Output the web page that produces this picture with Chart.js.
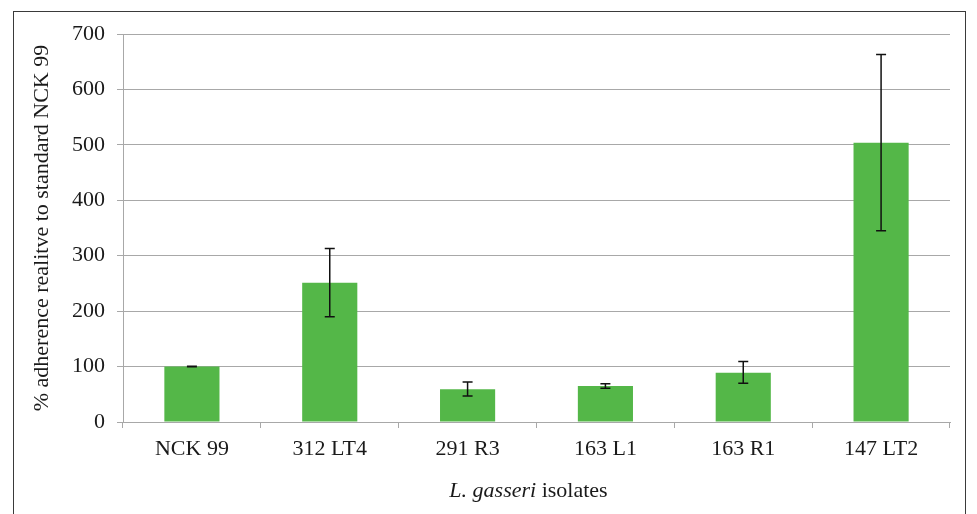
<!DOCTYPE html>
<html>
<head>
<meta charset="utf-8">
<script src="https://cdn.jsdelivr.net/npm/chart.js@4"></script>
<style>
  html, body { margin: 0; padding: 0; background: #ffffff; }
  #wrap { position: relative; width: 977px; height: 514px; overflow: hidden; }
  #frame { position: absolute; left: 13px; top: 11px; width: 953px; height: 530px; border: 1px solid #3a3a3a; box-sizing: border-box; pointer-events: none; }
  canvas { position: absolute; left: 0; top: 0; }
</style>
</head>
<body>
<div id="wrap">
  <canvas id="chart" width="977" height="514"></canvas>
  <div id="frame"></div>
</div>
<script>
// Isolates and their adherence relative to NCK 99 (%)
const isolates = ['NCK 99', '312 LT4', '291 R3', '163 L1', '163 R1', '147 LT2'];
const adherence = [100, 251, 59, 65, 89, 504];
const errLow = [99.5, 190, 47, 61, 70, 345];
const errHigh = [100.5, 313, 72, 69, 109, 663];
const yTicks = [0, 100, 200, 300, 400, 500, 600, 700];

const serif = '"Liberation Serif", "Times New Roman", serif';
const gridGray = '#a8a8a8';

// Error bars drawn through the y scale
const errorBars = {
  id: 'errorBars',
  afterDatasetsDraw(chart) {
    const ctx = chart.ctx;
    const y = chart.scales.y;
    const meta = chart.getDatasetMeta(0);
    ctx.save();
    ctx.strokeStyle = '#111111';
    ctx.lineWidth = 1.5;
    meta.data.forEach((bar, i) => {
      const x = bar.x;
      const yt = y.getPixelForValue(errHigh[i]);
      const yb = y.getPixelForValue(errLow[i]);
      const cap = 5;
      ctx.beginPath();
      ctx.moveTo(x, yt); ctx.lineTo(x, yb);
      ctx.moveTo(x - cap, yt); ctx.lineTo(x + cap, yt);
      ctx.moveTo(x - cap, yb); ctx.lineTo(x + cap, yb);
      ctx.stroke();
    });
    ctx.restore();
  }
};

// X axis title with the italic species name
const xTitle = {
  id: 'xTitle',
  afterDraw(chart) {
    const ctx = chart.ctx;
    const a = chart.chartArea;
    const part1 = 'L. gasseri';
    const part2 = ' isolates';
    ctx.save();
    ctx.fillStyle = '#1a1a1a';
    ctx.textBaseline = 'alphabetic';
    ctx.font = 'italic 22px ' + serif;
    const w1 = ctx.measureText(part1).width;
    ctx.font = '22px ' + serif;
    const w2 = ctx.measureText(part2).width;
    const x0 = (a.left + a.right) / 2 - (w1 + w2) / 2 - 8;
    const yb = 497;
    ctx.font = 'italic 22px ' + serif;
    ctx.fillText(part1, x0, yb);
    ctx.font = '22px ' + serif;
    ctx.fillText(part2, x0 + w1, yb);
    ctx.restore();
  }
};

new Chart(document.getElementById('chart'), {
  type: 'bar',
  data: {
    labels: isolates,
    datasets: [{
      data: adherence,
      backgroundColor: '#54b748',
      borderWidth: 0,
      categoryPercentage: 1.0,
      barPercentage: 0.4
    }]
  },
  options: {
    responsive: false,
    animation: false,
    devicePixelRatio: 1,
    layout: { padding: { top: 34, right: 27, bottom: 0, left: 0 } },
    plugins: { legend: { display: false }, tooltip: { enabled: false } },
    scales: {
      x: {
        afterFit(s) { s.height = 92; },
        grid: { display: true, drawOnChartArea: false, drawTicks: true, tickLength: 6, offset: true, color: gridGray },
        border: { display: true, color: gridGray, width: 1 },
        ticks: { color: '#1a1a1a', font: { family: serif, size: 22 }, padding: 8 }
      },
      y: {
        min: 0,
        max: 700,
        afterFit(s) { s.width = 123; },
        afterBuildTicks(s) { s.ticks = yTicks.map(v => ({ value: v })); },
        grid: { color: gridGray, lineWidth: 1, drawTicks: true, tickLength: 6 },
        border: { display: true, color: gridGray, width: 1 },
        ticks: { color: '#1a1a1a', font: { family: serif, size: 22 }, padding: 12 },
        title: {
          display: true,
          text: '% adherence realitve to standard NCK 99',
          color: '#1a1a1a',
          font: { family: serif, size: 22 },
          padding: { top: 29, bottom: 0 }
        }
      }
    }
  },
  plugins: [errorBars, xTitle]
});
</script>
</body>
</html>
